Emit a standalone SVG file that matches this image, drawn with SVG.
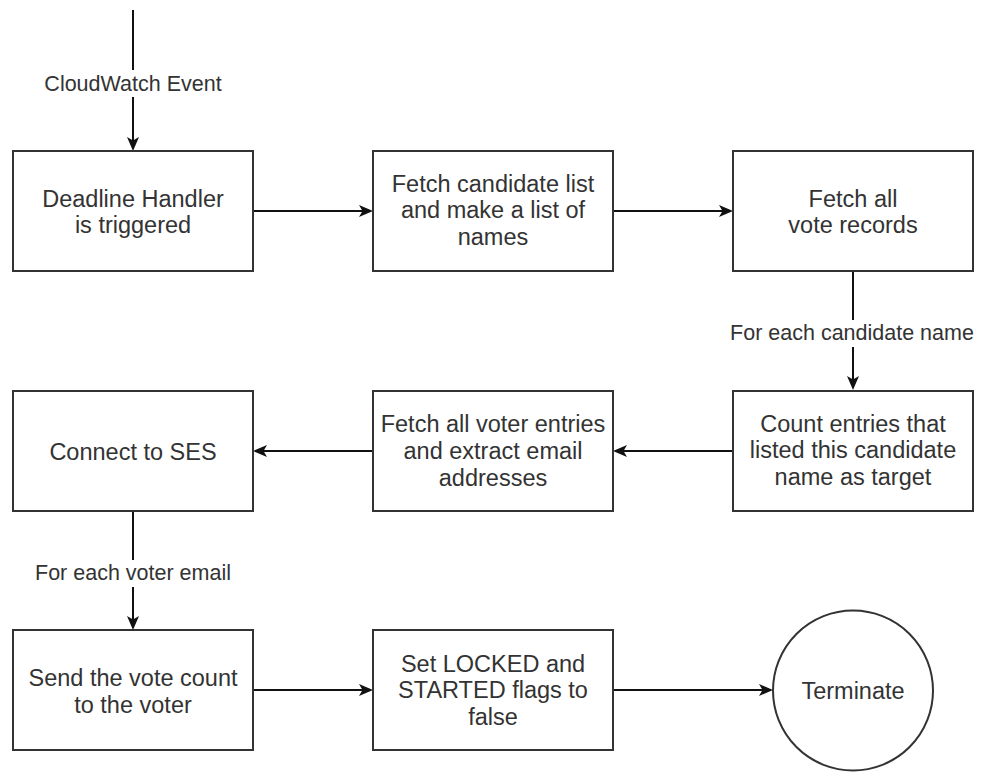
<svg xmlns="http://www.w3.org/2000/svg" width="981" height="772" viewBox="0 0 981 772">
<defs>
<marker id="arr" markerUnits="userSpaceOnUse" markerWidth="16" markerHeight="14" refX="10" refY="6" orient="auto">
<path d="M0,0 L14,6 L0,12 L3.5,6 Z" fill="#111"/>
</marker>
<style>
.box{fill:#fff;stroke:#333;stroke-width:2}
.t{font-family:"Liberation Sans",Arial,sans-serif;font-size:23.5px;fill:#333;text-anchor:middle}
.lbl{font-family:"Liberation Sans",Arial,sans-serif;font-size:21.5px;fill:#333;text-anchor:middle}
.edge{fill:none;stroke:#111;stroke-width:2;marker-end:url(#arr)}
.lbg{fill:#fff}
</style>
</defs>
<rect width="981" height="772" fill="#fff"/>

<g id="connectors">
<path class="edge" d="M133,10 L133,147"/>
<rect class="lbg" x="38" y="70" width="190" height="27"/>
<text class="lbl" x="133" y="91">CloudWatch Event</text>

<path class="edge" d="M253,211 L369,211"/>
<path class="edge" d="M613,211 L729,211"/>

<path class="edge" d="M853,270 L853,386"/>
<rect class="lbg" x="726" y="320" width="252" height="27"/>
<text class="lbl" x="852" y="340">For each candidate name</text>

<path class="edge" d="M733,451 L617,451"/>
<path class="edge" d="M373,451 L257,451"/>

<path class="edge" d="M133,510 L133,626"/>
<rect class="lbg" x="28" y="560" width="210" height="27"/>
<text class="lbl" x="133" y="580">For each voter email</text>

<path class="edge" d="M253,690 L369,690"/>
<path class="edge" d="M613,690 L769,690"/>
</g>

<g id="n-deadline">
<rect class="box" x="13" y="151" width="240" height="120"/>
<text class="t" x="133" y="207">Deadline Handler</text>
<text class="t" x="133" y="233">is triggered</text>
</g>

<g id="n-fetch-candidates">
<rect class="box" x="373" y="151" width="240" height="120"/>
<text class="t" x="493" y="192">Fetch candidate list</text>
<text class="t" x="493" y="218">and make a list of</text>
<text class="t" x="493" y="245">names</text>
</g>

<g id="n-fetch-votes">
<rect class="box" x="733" y="151" width="240" height="120"/>
<text class="t" x="853" y="207">Fetch all</text>
<text class="t" x="853" y="233">vote records</text>
</g>

<g id="n-count">
<rect class="box" x="733" y="391" width="240" height="120"/>
<text class="t" x="853" y="432">Count entries that</text>
<text class="t" x="853" y="458">listed this candidate</text>
<text class="t" x="853" y="485">name as target</text>
</g>

<g id="n-fetch-voters">
<rect class="box" x="373" y="391" width="240" height="120"/>
<text class="t" x="493" y="432">Fetch all voter entries</text>
<text class="t" x="493" y="459">and extract email</text>
<text class="t" x="493" y="486">addresses</text>
</g>

<g id="n-ses">
<rect class="box" x="13" y="391" width="240" height="120"/>
<text class="t" x="133" y="460">Connect to SES</text>
</g>

<g id="n-send">
<rect class="box" x="13" y="630" width="240" height="120"/>
<text class="t" x="133" y="686">Send the vote count</text>
<text class="t" x="133" y="713">to the voter</text>
</g>

<g id="n-set-flags">
<rect class="box" x="373" y="630" width="240" height="120"/>
<text class="t" x="493" y="672">Set LOCKED and</text>
<text class="t" x="493" y="698">STARTED flags to</text>
<text class="t" x="493" y="725">false</text>
</g>

<g id="n-terminate">
<circle class="box" cx="853" cy="690.5" r="80"/>
<text class="t" x="853" y="699">Terminate</text>
</g>
</svg>
